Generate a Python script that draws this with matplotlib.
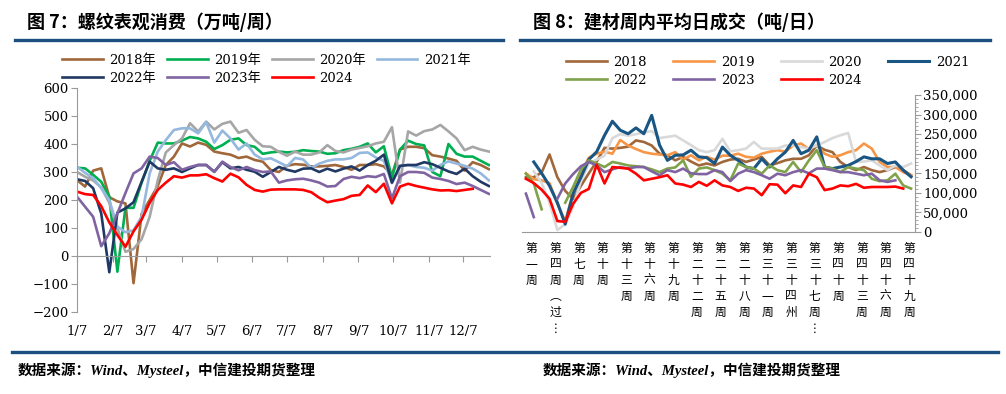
import numpy as np
import pandas as pd
import matplotlib
matplotlib.use('Agg')
import matplotlib.pyplot as plt
from matplotlib.lines import Line2D
from matplotlib.ticker import MultipleLocator, FuncFormatter

CJK = 'Noto Sans CJK SC'
plt.rcParams['font.family'] = ['DejaVu Serif', CJK]
plt.rcParams['axes.unicode_minus'] = True

##### Left chart data: rebar apparent consumption (万吨/周), weekly from 1/7
years_l = ['2018年', '2019年', '2020年', '2021年', '2022年', '2023年', '2024']
colors_l = ['#A0673A', '#00B050', '#A6A6A6', '#95B8DE', '#203864', '#8064A2', '#FF0000']

rebar_2018 = [271, 248, 305, 313, 210, 195, 188, -97, 150, 200, 250, 325, 355, 402, 391,
              405, 397, 373, 367, 362, 350, 355, 343, 337, 307, 300, 322, 328, 326, 320,
              320, 322, 325, 318, 308, 325, 325, 328, 320, 290, 380, 390, 390, 385, 360,
              355, 348, 340, 305, 335, 325, 310]
rebar_2019 = [315, 313, 290, 265, 212, -56, 172, 172, 262, 340, 405, 402, 402, 412, 425,
              420, 408, 382, 396, 415, 420, 396, 390, 365, 370, 373, 370, 372, 378, 375,
              373, 365, 367, 378, 383, 390, 402, 370, 392, 280, 380, 412, 400, 395, 300,
              285, 400, 365, 355, 355, 340, 325]
rebar_2020 = [300, 283, 270, 245, 190, 100, 15, 25, 60, 140, 270, 370, 396, 420, 474,
              445, 480, 452, 472, 480, 440, 450, 415, 392, 390, 372, 358, 373, 362, 362,
              370, 396, 375, 370, 380, 386, 392, 402, 408, 460, 262, 445, 430, 446, 452,
              468, 445, 420, 378, 390, 380, 373]
rebar_2021 = [319, 297, 278, 242, 200, 105, 85, 92, 140, 295, 373, 414, 450, 456, 456,
              438, 478, 405, 448, 420, 380, 402, 362, 345, 349, 335, 320, 350, 345, 315,
              330, 340, 345, 345, 350, 368, 370, 352, 340, 260, 320, 325, 318, 315, 305,
              325, 338, 330, 322, 312, 295, 270]
rebar_2022 = [274, 268, 242, 152, -58, 155, 170, 192, 265, 337, 313, 308, 313, 300, 313,
              325, 325, 301, 335, 313, 318, 308, 301, 283, 300, 318, 308, 301, 312, 313,
              300, 312, 302, 312, 320, 305, 325, 340, 362, 262, 322, 325, 325, 335, 328,
              315, 302, 293, 312, 285, 265, 250]
rebar_2023 = [212, 176, 140, 35, 81, 152, 225, 295, 313, 355, 350, 325, 335, 308, 318,
              325, 325, 300, 337, 318, 306, 318, 307, 300, 302, 262, 270, 274, 276, 270,
              262, 248, 250, 275, 283, 278, 285, 282, 293, 206, 285, 300, 300, 297, 280,
              275, 268, 257, 262, 250, 236, 222]
rebar_2024 = [230, 221, 218, 178, 120, 75, 33, 88, 130, 190, 236, 262, 285, 280, 288,
              288, 292, 278, 266, 294, 281, 254, 236, 230, 237, 238, 238, 238, 236, 228,
              208, 192, 198, 203, 215, 218, 252, 228, 258, 188, 248, 258, 250, 244, 238,
              234, 235, 232, 236, 240]
series_l = [rebar_2018, rebar_2019, rebar_2020, rebar_2021, rebar_2022, rebar_2023, rebar_2024]

start = pd.Timestamp('2024-01-07')
week_days = np.arange(52) * 7
month_ticks = pd.date_range(start, periods=12, freq=pd.DateOffset(months=1))
month_pos = (month_ticks - start).days
month_labels = [f"{d.month}/{d.day}" for d in month_ticks]

##### Right chart data: building material daily average deals (千吨/日), week 1..50
years_r = ['2018', '2019', '2020', '2021', '2022', '2023', '2024']
colors_r = ['#A0673A', '#F79646', '#D9D9D9', '#1A5684', '#7FA34A', '#8064A2', '#FF0000']
nan = np.nan
deal_2018 = [140, 140, 152, 198, 140, 105, 85, 118, 150, 180, 215, 213, 215, 218, 234,
             230, 221, 200, 196, 183, 192, 180, 170, 175, 170, 179, 185, 187, 179, 185,
             192, 170, 176, 183, 187, 187, 196, 221, 210, 204, 179, 166, 158, 166, 158,
             153, 158, 166, 158, 145]
deal_2019 = [150, 135, 132, 125, 72, 28, 100, 150, 190, 200, 205, 200, 235, 221, 212,
             204, 200, 198, 196, 204, 185, 196, 183, 192, 185, 195, 195, 200, 192, 190,
             200, 205, 209, 205, 221, 226, 212, 221, 200, 192, 196, 204, 209, 226, 213,
             179, 166, 166, 153, 145]
deal_2020 = [nan, 155, 125, 75, 5, 20, 64, 130, 175, 185, 195, 240, 250, 246, 250,
             254, 258, 240, 243, 246, 234, 222, 209, 204, 209, 238, 206, 209, 213, 230,
             213, 213, 213, 221, 221, 217, 213, 221, 230, 240, 247, 253, 179, 180, 183,
             170, 158, 170, 166, 175]
deal_2021 = [nan, 179, 150, 118, 75, 20, 98, 140, 185, 205, 247, 283, 260, 251, 266,
             251, 298, 222, 183, 196, 197, 209, 192, 190, 175, 217, 196, 183, 166, 162,
             187, 166, 187, 204, 234, 200, 209, 243, 166, 162, 166, 170, 180, 192, 187,
             187, 175, 179, 158, 141]
deal_2022 = [149, 124, 58, nan, nan, 75, 115, 160, 183, 175, 166, 179, 175, 170, 168,
             166, 160, 153, 162, 165, 183, 141, 162, 165, 158, 149, 132, 175, 166, 162,
             149, 170, 158, 153, 179, 153, 183, 209, 166, 162, 153, 166, 162, 158, 136,
             130, 132, 149, 119, 111]
deal_2023 = [98, 38, nan, nan, 85, 124, 148, 168, 179, 170, 153, 160, 166, 162, 166,
             166, 155, 145, 158, 153, 162, 150, 148, 148, 158, 153, 130, 149, 158, 153,
             145, 136, 149, 145, 153, 158, 150, 162, 162, 158, 153, 153, 149, 145, 149,
             132, 128, 132]
deal_2024 = [136, 125, 108, 85, 28, 26, 72, 100, 110, 172, 124, 166, 164, 162, 149,
             132, 136, 140, 145, 124, 121, 115, 128, 118, 132, 119, 115, 105, 113, 111,
             94, 122, 121, 99, 119, 115, 149, 140, 107, 111, 119, 117, 123, 113, 115,
             115, 115, 116, 111]
series_r = [deal_2018, deal_2019, deal_2020, deal_2021, deal_2022, deal_2023, deal_2024]

week_tick_nums = list(range(1, 50, 3))
week_labels = ['第一周', '第四周︵过⋮', '第七周', '第十周', '第十三周', '第十六周',
               '第十九周', '第二十二周', '第二十五周', '第二十八周', '第三十一周',
               '第三十四州', '第三十七周⋮', '第四十周', '第四十三周', '第四十六周',
               '第四十九周']

W, H = 1006, 394
fig = plt.figure(figsize=(W / 100, H / 100), dpi=100)
axis_gray = '#9A9A9A'
header_blue = '#1B4F7F'
# legend fills column by column: reorder so rows read 2018..2021 / 2022..2024
legend_order = [0, 4, 1, 5, 2, 6, 3]


def fx(px):
    return px / W


def fy(py):
    return 1 - py / H


##### Headers and footer
fig.text(fx(27), fy(22), '图 7：螺纹表观消费（万吨/周）', fontsize=13, weight='bold',
         family=[CJK], va='center')
fig.text(fx(533), fy(22), '图 8：建材周内平均日成交（吨/日）', fontsize=13, weight='bold',
         family=[CJK], va='center')
fig.add_artist(Line2D([fx(15), fx(503)], [fy(40), fy(40)], color=header_blue, lw=2.4))
fig.add_artist(Line2D([fx(520), fx(990)], [fy(40), fy(40)], color=header_blue, lw=2.4))
fig.add_artist(Line2D([fx(12), fx(998)], [fy(352), fy(352)], color=header_blue, lw=2.4))
src = '数据来源：Wind、Mysteel，中信建投期货整理'
for xpx in (18, 543):
    fig.text(fx(xpx), fy(370), src, fontsize=10.5, weight='bold', style='italic',
             family=['Liberation Serif', CJK], va='center')

##### Left chart
ax1 = fig.add_axes([fx(77), fy(312), fx(490 - 77), (312 - 88) / H])
for vals, lab, col in zip(series_l, years_l, colors_l):
    v = np.array(vals, dtype=float)
    ax1.plot(week_days[:len(v)], v, color=col, lw=1.9, label=lab,
             solid_joinstyle='round')
ax1.set_xlim(0, 358)
ax1.set_ylim(-200, 600)
ax1.set_yticks(np.arange(-200, 601, 100))
ax1.set_xticks(month_pos)
ax1.set_xticklabels([])
for sp in ['top', 'right']:
    ax1.spines[sp].set_visible(False)
ax1.spines['bottom'].set_position(('data', 0))
for sp in ['left', 'bottom']:
    ax1.spines[sp].set_color(axis_gray)
ax1.tick_params(axis='y', length=4, color=axis_gray, labelsize=9.5, pad=2)
ax1.tick_params(axis='x', length=4, color=axis_gray)
for pos, lab in zip(month_pos, month_labels):
    ax1.text(pos, -0.085, lab, transform=ax1.get_xaxis_transform(), ha='center',
             va='center', fontsize=9.5)
h, l = ax1.get_legend_handles_labels()
ax1.legend([h[i] for i in legend_order], [l[i] for i in legend_order],
           loc='upper left', bbox_to_anchor=(fx(62), fy(54)),
           bbox_transform=fig.transFigure, ncol=4, frameon=False, fontsize=9.5,
           handlelength=3.1, handletextpad=0.5, columnspacing=0.8,
           labelspacing=0.35, borderpad=0, borderaxespad=0)

##### Right chart
ax2 = fig.add_axes([fx(522), fy(232), fx(915 - 522), (232 - 95) / H])
weeks = np.arange(1, 51)
for vals, lab, col in zip(series_r, years_r, colors_r):
    v = np.array(vals, dtype=float) * 1000
    lw = 2.2 if lab == '2021' else 1.9
    ax2.plot(weeks[:len(v)], v, color=col, lw=lw, label=lab, solid_joinstyle='round')
ax2.set_xlim(0.5, 50.5)
ax2.set_ylim(0, 350000)
ax2.yaxis.tick_right()
ax2.set_yticks(np.arange(0, 350001, 50000))
ax2.yaxis.set_minor_locator(MultipleLocator(10000))
ax2.yaxis.set_major_formatter(FuncFormatter(lambda v, p: f"{v:,.0f}"))
ax2.set_xticks(week_tick_nums)
ax2.set_xticklabels([])
ax2.tick_params(axis='x', length=0)
ax2.tick_params(axis='y', which='major', length=4, color=axis_gray, labelsize=9.5, pad=2)
ax2.tick_params(axis='y', which='minor', length=2, color=axis_gray)
for sp in ['top', 'left']:
    ax2.spines[sp].set_visible(False)
for sp in ['right', 'bottom']:
    ax2.spines[sp].set_color(axis_gray)
for wk, lab in zip(week_tick_nums, week_labels):
    ax2.text(wk, -0.07, '\n'.join(lab), transform=ax2.get_xaxis_transform(),
             ha='left', va='top', multialignment='center', fontsize=8.5,
             family=[CJK, 'DejaVu Sans'], linespacing=1.3)
h, l = ax2.get_legend_handles_labels()
ax2.legend([h[i] for i in legend_order], [l[i] for i in legend_order],
           loc='upper left', bbox_to_anchor=(fx(566), fy(56)),
           bbox_transform=fig.transFigure, ncol=4, frameon=False, fontsize=9.5,
           handlelength=3.1, handletextpad=0.5, columnspacing=2.0,
           labelspacing=0.35, borderpad=0, borderaxespad=0)

fig.savefig('out.png', dpi=100)
